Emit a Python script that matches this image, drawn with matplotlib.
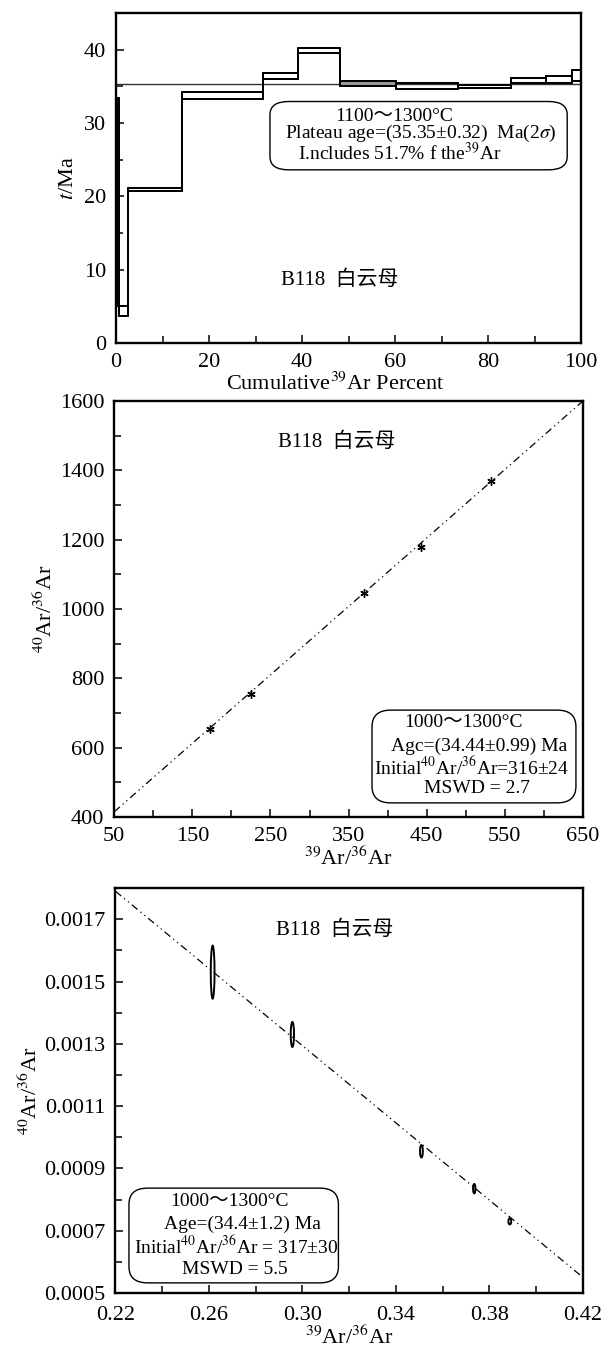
import matplotlib
matplotlib.use("Agg")
import matplotlib.pyplot as plt
from matplotlib.patches import Ellipse, FancyBboxPatch
from matplotlib.ticker import MultipleLocator

plt.rcParams['font.family'] = ['Liberation Serif', 'Noto Sans CJK SC']
plt.rcParams['mathtext.fontset'] = 'stix'

# ── Data ───────────────────────────────────────────────────────────────────────

# age spectrum (cumulative 39Ar %, age box low/high in Ma)
step_left  = [0.0, 0.6, 2.5, 14.2, 31.5, 39.2, 48.2, 60.3, 73.5, 84.9, 92.5, 98.0]
step_right = [0.6, 2.5, 14.2, 31.5, 39.2, 48.2, 60.3, 73.5, 84.9, 92.5, 98.0, 100.0]
step_low   = [5.0, 3.7, 20.7, 33.3, 36.0, 39.5, 35.0, 34.7, 34.8, 35.4, 35.5, 35.8]
step_high  = [33.4, 5.1, 21.2, 34.2, 36.8, 40.3, 35.7, 35.5, 35.2, 36.1, 36.4, 37.3]
step_face  = ["black", "none", "none", "none", "none", "none",
              "#9a9a9a", "none", "none", "none", "none", "none"]
plateau_age = 35.35

# normal isochron
iso_x      = [172, 225, 370, 443, 532]
iso_y      = [655, 755, 1045, 1180, 1368]
iso_line_x = [50, 650]
iso_line_y = [415, 1600]

# inverse isochron
inv_x      = [0.2616, 0.2957, 0.3509, 0.3735, 0.3887]
inv_y      = [0.00153, 0.00133, 0.000955, 0.000835, 0.00073]
inv_w      = [0.0016, 0.0014, 0.0012, 0.0010, 0.0012]
inv_h      = [0.00017, 0.00008, 0.00004, 0.00003, 0.00002]
inv_line_x = [0.22, 0.42]
inv_line_y = [0.00179, 0.00055]

sample = "B118  白云母"
dashes = (6, 3, 1, 3, 1, 3)


def style_axes(ax):
    for s in ax.spines.values():
        s.set_linewidth(1.7)
    ax.tick_params(which="both", direction="in", top=False, right=False,
                   labelsize=16, width=1.1, pad=7)
    ax.tick_params(which="major", length=6)
    ax.tick_params(which="minor", length=5)


def info_box(ax, x0, y0, x1, y1):
    box = FancyBboxPatch((x0, y0), x1 - x0, y1 - y0,
                         boxstyle="round,pad=0,rounding_size=0.04",
                         transform=ax.transAxes, facecolor="white",
                         edgecolor="black", linewidth=1.0, zorder=5)
    ax.add_patch(box)


def info_lines(ax, lines, fs=14):
    for (x, y, s) in lines:
        ax.text(x, y, s, transform=ax.transAxes, ha="center", va="center",
                fontsize=fs, zorder=6)


fig = plt.figure(figsize=(6.01, 13.48), dpi=100)

# ── Age spectrum ───────────────────────────────────────────────────────────────

ax1 = fig.add_axes([0.193, 0.7455, 0.774, 0.2448])
widths  = [r - l for l, r in zip(step_left, step_right)]
heights = [h - l for l, h in zip(step_low, step_high)]
ax1.bar(step_left, heights, width=widths, bottom=step_low, align="edge",
        color=step_face, edgecolor="black", linewidth=1.2, zorder=3)
edges = step_left + [step_right[-1]]
ax1.step(edges, step_low + [step_low[-1]], where="post", color="black",
         linewidth=1.4, zorder=4)
ax1.step(edges, step_high + [step_high[-1]], where="post", color="black",
         linewidth=1.4, zorder=4)
ax1.axhline(plateau_age, color="#333333", linewidth=1.0, zorder=2)
ax1.set_xlim(0, 100)
ax1.set_ylim(0, 45)
ax1.xaxis.set_major_locator(MultipleLocator(20))
ax1.xaxis.set_minor_locator(MultipleLocator(10))
ax1.yaxis.set_major_locator(MultipleLocator(10))
ax1.yaxis.set_minor_locator(MultipleLocator(5))
style_axes(ax1)
ax1.set_xlabel("Cumulative$^{39}$Ar Percent", fontsize=16, labelpad=1)
ax1.xaxis.set_label_coords(0.471, -0.09)
ax1.set_ylabel("$t$/Ma", fontsize=16, labelpad=4)
info_box(ax1, 0.331, 0.525, 0.970, 0.732)
info_lines(ax1, [
    (0.598, 0.688, "1100～1300°C"),
    (0.656, 0.634, "Plateau age=(35.35±0.32)  Ma(2$\\sigma$)"),
    (0.609, 0.575, "I.ncludes 51.7% f the$^{39}$Ar"),
])
ax1.text(0.48, 0.19, sample, transform=ax1.transAxes, ha="center",
         va="center", fontsize=15)

# ── Normal isochron ────────────────────────────────────────────────────────────

ax2 = fig.add_axes([0.190, 0.3939, 0.780, 0.3086])
ax2.plot(iso_line_x, iso_line_y, color="black", linewidth=0.9,
         dashes=dashes)
ax2.plot(iso_x, iso_y, linestyle="none", marker=(6, 2, 0),
         markersize=6, markeredgewidth=1.0, color="black")
ax2.set_xlim(50, 650)
ax2.set_ylim(400, 1600)
ax2.set_xticks([50, 150, 250, 350, 450, 550, 650])
ax2.xaxis.set_minor_locator(MultipleLocator(50))
ax2.yaxis.set_major_locator(MultipleLocator(200))
ax2.yaxis.set_minor_locator(MultipleLocator(100))
style_axes(ax2)
ax2.set_xlabel("$^{39}$Ar/$^{36}$Ar", fontsize=16, labelpad=1)
ax2.set_ylabel("$^{40}$Ar/$^{36}$Ar", fontsize=16, labelpad=2)
info_box(ax2, 0.550, 0.034, 0.985, 0.257)
info_lines(ax2, [
    (0.746, 0.228, "1000～1300°C"),
    (0.778, 0.170, "Agc=(34.44±0.99) Ma"),
    (0.763, 0.119, "Initial$^{40}$Ar/$^{36}$Ar=316±24"),
    (0.774, 0.068, "MSWD = 2.7"),
])
ax2.text(0.475, 0.90, sample, transform=ax2.transAxes, ha="center",
         va="center", fontsize=15)

# ── Inverse isochron ───────────────────────────────────────────────────────────

ax3 = fig.add_axes([0.192, 0.0408, 0.778, 0.3004])
ax3.plot(inv_line_x, inv_line_y, color="black", linewidth=0.9,
         dashes=dashes)
for x, y, w, h in zip(inv_x, inv_y, inv_w, inv_h):
    ax3.add_patch(Ellipse((x, y), w, h, facecolor="none",
                          edgecolor="black", linewidth=1.4, zorder=3))
ax3.set_xlim(0.22, 0.42)
ax3.set_ylim(0.0005, 0.0018)
ax3.set_xticks([0.22, 0.26, 0.30, 0.34, 0.38, 0.42])
ax3.set_xticklabels(["0.22", "0.26", "0.30", "0.34", "0.38", "0.42"])
ax3.xaxis.set_minor_locator(MultipleLocator(0.02))
ax3.set_yticks([0.0005, 0.0007, 0.0009, 0.0011, 0.0013, 0.0015, 0.0017])
ax3.set_yticklabels(["0.0005", "0.0007", "0.0009", "0.0011", "0.0013",
                     "0.0015", "0.0017"])
ax3.yaxis.set_minor_locator(MultipleLocator(0.0001))
style_axes(ax3)
ax3.tick_params(axis="x", pad=9)
ax3.set_xlabel("$^{39}$Ar/$^{36}$Ar", fontsize=16, labelpad=1)
ax3.set_ylabel("$^{40}$Ar/$^{36}$Ar", fontsize=16, labelpad=2)
info_box(ax3, 0.029, 0.025, 0.477, 0.259)
info_lines(ax3, [
    (0.243, 0.227, "1000～1300°C"),
    (0.271, 0.170, "Age=(34.4±1.2) Ma"),
    (0.258, 0.114, "Initial$^{40}$Ar/$^{36}$Ar = 317±30"),
    (0.255, 0.057, "MSWD = 5.5"),
])
ax3.text(0.47, 0.896, sample, transform=ax3.transAxes, ha="center",
         va="center", fontsize=15)

fig.savefig("out.png", dpi=100)
plt.close(fig)
